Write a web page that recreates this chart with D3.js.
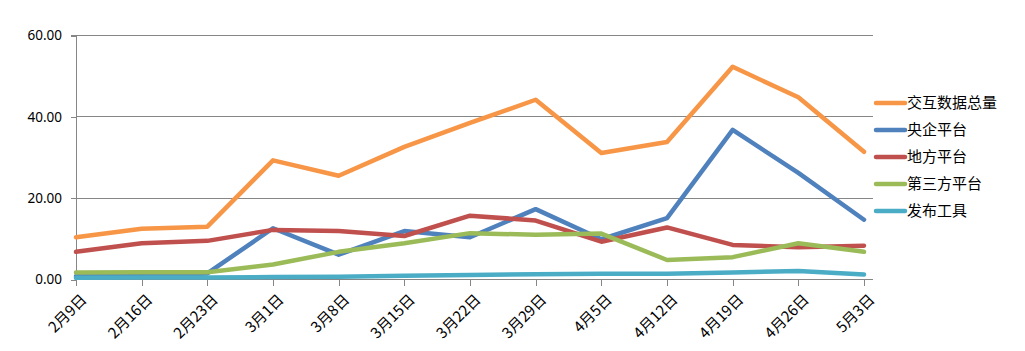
<!DOCTYPE html>
<html><head><meta charset="utf-8">
<script src="https://cdn.jsdelivr.net/npm/d3@7/dist/d3.min.js"></script>
<style>
body{margin:0;background:#fff;}
text{font-family:"Noto Sans CJK SC","Noto Sans",sans-serif;fill:#000;}
</style></head>
<body><svg id="c" width="1025" height="351"></svg>
<script>
const categories = ["2月9日","2月16日","2月23日","3月1日","3月8日","3月15日","3月22日","3月29日","4月5日","4月12日","4月19日","4月26日","5月3日"];
const seriesNames = ["交互数据总量","央企平台","地方平台","第三方平台","发布工具"];
const totalData = [10.4,12.5,13.0,29.3,25.5,32.6,38.5,44.2,31.1,33.8,52.3,44.8,31.4];
const centralData = [0.8,1.0,1.5,12.6,6.1,11.9,10.4,17.3,9.9,15.1,36.8,26.2,14.7];
const localData = [6.8,8.9,9.5,12.2,11.9,10.7,15.7,14.5,9.3,12.8,8.5,7.9,8.3];
const thirdData = [1.7,1.8,1.8,3.7,6.8,8.9,11.4,11.0,11.3,4.8,5.5,8.9,6.8];
const toolData = [0.4,0.5,0.5,0.6,0.7,0.9,1.1,1.3,1.4,1.4,1.7,2.1,1.2];
const yTicks = [0,20,40,60];
const colors = ["#F79646","#4F81BD","#C0504D","#9BBB59","#4BACC6"];
const allSeries = [totalData,centralData,localData,thirdData,toolData];

(function(){
const svg = d3.select("#c");
const pLeft = 76, pRight = 873, pTop = 35.5, pBottom = 279.5;
const x = d3.scalePoint().domain(categories).range([pLeft, 864]);
const y = d3.scaleLinear().domain([0,60]).range([pBottom, pTop]);

svg.append("g").selectAll("line").data(yTicks.slice(1)).join("line")
  .attr("x1", pLeft).attr("x2", pRight)
  .attr("y1", d=>y(d)).attr("y2", d=>y(d))
  .attr("stroke","#868686").attr("stroke-width",1).attr("shape-rendering","crispEdges");

const ya = svg.append("g").attr("transform",`translate(${pLeft},0)`)
  .call(d3.axisLeft(y).tickValues(yTicks).tickFormat(d3.format(".2f")).tickSize(5).tickPadding(9));
ya.select(".domain").attr("stroke","#868686").attr("d",`M-5,${y(60)}H0V${pBottom}`);
ya.selectAll(".tick line").attr("stroke","#868686");
ya.selectAll("text").attr("font-size","13.5px").style("font-family","'Noto Sans','DejaVu Sans',sans-serif");

const xa = svg.append("g").attr("transform",`translate(0,${pBottom})`)
  .call(d3.axisBottom(x).tickSize(6).tickSizeOuter(0));
xa.select(".domain").attr("stroke","#868686").attr("d",`M${pLeft},0H${pRight}`);
xa.selectAll(".tick line").attr("stroke","#868686");
xa.selectAll("text").attr("font-size","15px")
  .attr("text-anchor","end")
  .attr("transform","translate(3,13) rotate(-45)")
  .attr("dy","0.5em").attr("y",4).attr("x",0);
svg.selectAll(".domain, .tick line").attr("shape-rendering","crispEdges");

const line = d3.line().x((d,i)=>x(categories[i])).y(d=>y(d));
svg.append("g").selectAll("path").data([0,1,2,3,4]).join("path")
  .attr("d", k=>line(allSeries[k]))
  .attr("fill","none").attr("stroke",k=>colors[k])
  .attr("stroke-width",4.5).attr("stroke-linejoin","round").attr("stroke-linecap","round");

const lg = svg.append("g").selectAll("g").data(seriesNames).join("g")
  .attr("transform",(d,i)=>`translate(876,${103+i*27})`);
lg.append("line").attr("x1",0).attr("x2",29).attr("stroke",(d,i)=>colors[i])
  .attr("stroke-width",4.5).attr("stroke-linecap","round");
lg.append("text").attr("x",31).attr("dy","0.35em").attr("font-size","15px").text(d=>d);
})();
</script></body></html>
